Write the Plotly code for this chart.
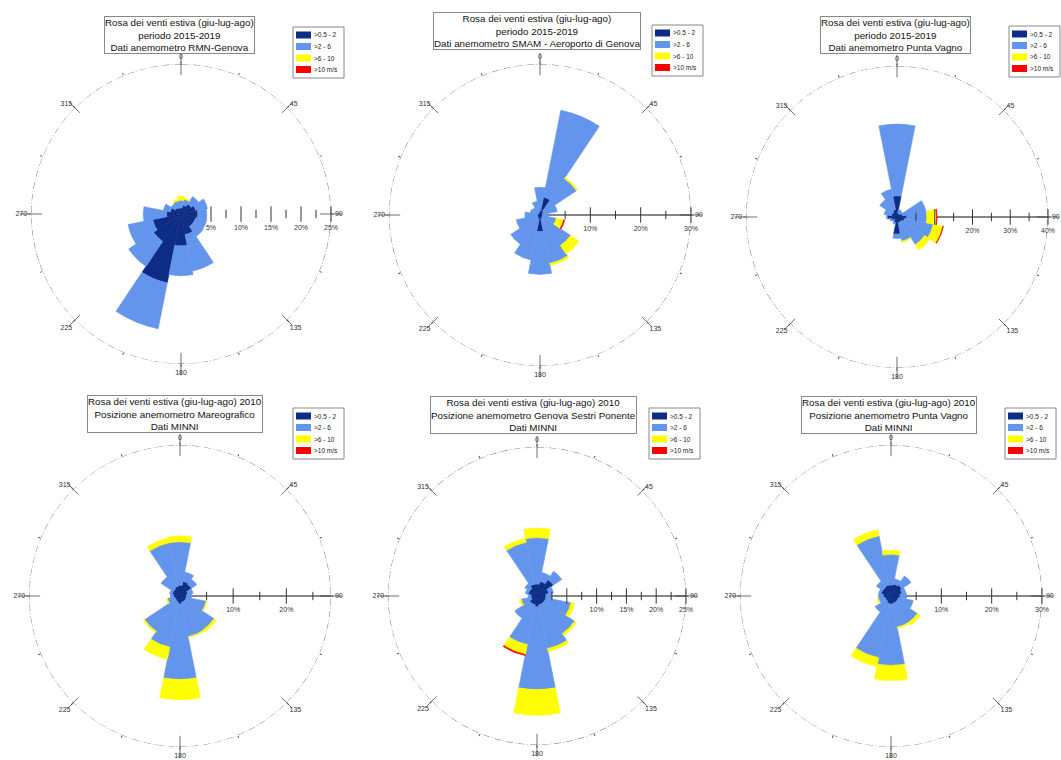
import plotly.graph_objects as go

# ---------------------------------------------------------------------------
# Wind-rose data: frequency (%) per direction sector and speed class
# ---------------------------------------------------------------------------
DIRECTIONS = [0, 22.5, 45, 67.5, 90, 112.5, 135, 157.5,
              180, 202.5, 225, 247.5, 270, 292.5, 315, 337.5]
SPEED_CLASSES = [">0.5 - 2", ">2 - 6", ">6 - 10", ">10 m/s"]
ANGLE_LABELS = ["0", "", "45", "", "90", "", "135", "",
                "180", "", "225", "", "270", "", "315", ""]

# RMN-Genova, 2015-2019
rmn_c1 = [1.0, 1.5, 2.0, 2.5, 2.8, 2.5, 2.5, 3.5, 5.3, 11.7, 5.5, 4.8, 2.4, 1.8, 1.2, 1.0]
rmn_c2 = [1.3, 1.0, 1.5, 2.0, 1.5, 1.9, 2.0, 6.2, 5.0, 7.8, 5.0, 4.2, 3.9, 1.2, 0.8, 1.2]
rmn_c3 = [0.7, 0.2, 0, 0, 0, 0, 0, 0, 0, 0, 0, 0, 0, 0, 0, 0.3]
rmn_c4 = [0, 0, 0, 0, 0, 0, 0, 0, 0, 0, 0, 0, 0, 0, 0, 0]

# SMAM - Aeroporto di Genova, 2015-2019
smam_c1 = [0.8, 3.6, 0.8, 0.5, 0.5, 0.5, 0.5, 0.8, 3.3, 0.8, 0.6, 0.5, 0.5, 0.4, 0.4, 0.5]
smam_c2 = [4.7, 17.6, 7.9, 3.0, 1.2, 2.8, 6.8, 9.0, 8.5, 8.3, 6.4, 4.3, 2.5, 1.6, 1.4, 2.3]
smam_c3 = [0, 0, 0.3, 0, 0, 1.5, 2.0, 0.4, 0, 0, 0, 0, 0, 0, 0, 0]
smam_c4 = [0, 0, 0, 0, 0, 0.2, 0, 0, 0, 0, 0, 0, 0, 0, 0, 0]

# Punta Vagno, 2015-2019
pv_c1 = [5.6, 1.0, 1.0, 1.5, 2.5, 2.0, 1.5, 1.5, 4.5, 1.5, 1.0, 1.5, 2.5, 1.5, 1.5, 2.0]
pv_c2 = [19.0, 1.0, 0.8, 6.3, 5.4, 7.8, 7.3, 5.0, 1.2, 0.5, 0.5, 0.5, 0.3, 2.0, 4.0, 5.5]
pv_c3 = [0, 0, 0, 0, 2.6, 2.6, 1.7, 0.3, 0, 0, 0, 0, 0, 0, 0, 0]
pv_c4 = [0, 0, 0, 0, 0.15, 0.15, 0, 0, 0, 0, 0, 0, 0, 0, 0, 0]

# MINNI 2010 - Mareografico
mar_c1 = [2.0, 2.8, 2.6, 1.5, 1.2, 1.2, 1.2, 1.2, 1.5, 1.2, 1.0, 1.0, 1.2, 1.5, 1.5, 1.8]
mar_c2 = [8.2, 1.8, 1.2, 1.0, 1.0, 3.8, 6.5, 6.6, 14.2, 8.6, 7.0, 1.4, 0.6, 0.5, 2.8, 8.4]
mar_c3 = [1.1, 0, 0, 0, 0, 0.2, 0.5, 0.2, 3.8, 2.3, 0.3, 0.3, 0, 0, 0, 0.9]
mar_c4 = [0, 0, 0, 0, 0, 0, 0, 0, 0, 0, 0, 0, 0, 0, 0, 0]

# MINNI 2010 - Genova Sestri Ponente
ses_c1 = [2.0, 2.5, 3.3, 2.0, 1.5, 1.5, 1.5, 1.5, 1.8, 1.5, 1.5, 1.0, 1.0, 1.5, 1.5, 2.0]
ses_c2 = [7.8, 1.5, 1.7, 0.8, 1.0, 4.3, 6.1, 7.5, 13.9, 6.8, 3.0, 1.7, 0.5, 0.5, 1.0, 7.2]
ses_c3 = [1.6, 0, 0, 0, 0, 0.6, 0.4, 0.5, 4.3, 1.7, 0, 0.3, 0, 0, 0, 0.7]
ses_c4 = [0, 0, 0, 0, 0, 0, 0, 0, 0, 0.2, 0, 0, 0, 0, 0, 0]

# MINNI 2010 - Punta Vagno
mpv_c1 = [2.2, 2.4, 2.6, 2.2, 1.8, 1.5, 1.5, 1.5, 1.6, 1.5, 1.2, 1.2, 1.5, 2.0, 2.0, 2.2]
mpv_c2 = [6.1, 1.1, 2.2, 0.8, 1.3, 3.0, 4.8, 4.8, 12.2, 11.0, 2.6, 1.3, 1.0, 0.5, 1.5, 10.0]
mpv_c3 = [0.8, 0, 0, 0, 0, 0, 0.7, 0.3, 3.0, 1.8, 0, 0.3, 0, 0, 0, 1.2]
mpv_c4 = [0, 0, 0, 0, 0, 0, 0, 0, 0, 0, 0, 0, 0, 0, 0, 0]

# Radial tick values (labelled) and minor tick values, per rose
rmn_ticks, rmn_minor = [5, 10, 15, 20, 25], [2.5, 7.5, 12.5, 17.5, 22.5]
smam_ticks, smam_minor = [10, 20, 30], [5, 15, 25]
pv_ticks, pv_minor = [10, 20, 30, 40], [5, 15, 25, 35]
mar_ticks, mar_minor = [10, 20], [5, 15, 25]
ses_ticks, ses_minor = [5, 10, 15, 20, 25], [2.5, 7.5, 12.5, 17.5, 22.5]
mpv_ticks, mpv_minor = [10, 20, 30], [5, 15, 25]

# ---------------------------------------------------------------------------
# Layout of the six roses (pixel geometry on a 1061 x 760 page)
# ---------------------------------------------------------------------------
W, H = 1061, 760
COLORS = ["#0d2d84", "#6495ed", "#ffff00", "#ff0000"]
FONT = "Liberation Sans, Arial, sans-serif"
TICK_COLOR = "#333333"

panels = [
    dict(title="Rosa dei venti estiva (giu-lug-ago)<br>periodo 2015-2019<br>Dati anemometro RMN-Genova",
         data=[rmn_c1, rmn_c2, rmn_c3, rmn_c4], ticks=rmn_ticks, minor=rmn_minor, rmax=25,
         cx=181, cy=214, R=150, axis_line=False, tbox=(179, 35), leg=(293, 27)),
    dict(title="Rosa dei venti estiva (giu-lug-ago)<br>periodo 2015-2019<br>Dati anemometro SMAM - Aeroporto di Genova",
         data=[smam_c1, smam_c2, smam_c3, smam_c4], ticks=smam_ticks, minor=smam_minor, rmax=30,
         cx=540, cy=215, R=151, axis_line=True, tbox=(537, 31), leg=(652, 25)),
    dict(title="Rosa dei venti estiva (giu-lug-ago)<br>periodo 2015-2019<br>Dati anemometro Punta Vagno",
         data=[pv_c1, pv_c2, pv_c3, pv_c4], ticks=pv_ticks, minor=pv_minor, rmax=40,
         cx=897, cy=217, R=151, axis_line=True, tbox=(895, 35), leg=(1009, 26)),
    dict(title="Rosa dei venti estiva (giu-lug-ago) 2010<br>Posizione anemometro Mareografico<br>Dati MINNI",
         data=[mar_c1, mar_c2, mar_c3, mar_c4], ticks=mar_ticks, minor=mar_minor, rmax=28.4,
         cx=180, cy=596, R=151, axis_line=True, tbox=(175, 414), leg=(293, 408)),
    dict(title="Rosa dei venti estiva (giu-lug-ago) 2010<br>Posizione anemometro Genova Sestri Ponente<br>Dati MINNI",
         data=[ses_c1, ses_c2, ses_c3, ses_c4], ticks=ses_ticks, minor=ses_minor, rmax=25,
         cx=537, cy=596, R=149, axis_line=True, tbox=(533, 415), leg=(649, 408)),
    dict(title="Rosa dei venti estiva (giu-lug-ago) 2010<br>Posizione anemometro Punta Vagno<br>Dati MINNI",
         data=[mpv_c1, mpv_c2, mpv_c3, mpv_c4], ticks=mpv_ticks, minor=mpv_minor, rmax=30,
         cx=891, cy=596, R=151, axis_line=True, tbox=(889, 415), leg=(1005, 408)),
]


def px_x(x):
    return x / W


def px_y(y):
    return 1 - y / H


fig = go.Figure()
layout_extra = {}
annotations = []
shapes = []

for i, p in enumerate(panels, start=1):
    sub = "polar" if i == 1 else f"polar{i}"
    rmax = p["rmax"]

    # outer dashed circle
    circle_theta = list(range(0, 361, 2))
    fig.add_trace(go.Scatterpolar(
        r=[rmax] * len(circle_theta), theta=circle_theta, mode="lines",
        line=dict(color="#444", width=0.8, dash="7px,2px,1px,2px"),
        subplot=sub, showlegend=False, hoverinfo="skip"))

    # radial axis tick marks (drawn beneath the bars)
    fig.add_trace(go.Scatterpolar(
        r=p["minor"], theta=[90] * len(p["minor"]), mode="markers",
        marker=dict(symbol="line-ns-open", size=6, color=TICK_COLOR, line=dict(width=1)),
        subplot=sub, showlegend=False, hoverinfo="skip"))
    fig.add_trace(go.Scatterpolar(
        r=p["ticks"], theta=[90] * len(p["ticks"]), mode="markers",
        marker=dict(symbol="line-ns-open", size=11, color=TICK_COLOR, line=dict(width=1)),
        subplot=sub, showlegend=False, hoverinfo="skip"))

    # compass ticks crossing the circle
    fig.add_trace(go.Scatterpolar(
        r=[rmax] * 8, theta=[0, 45, 90, 135, 180, 225, 270, 315], mode="markers",
        marker=dict(symbol="line-ns-open", size=[16, 10, 16, 10, 16, 10, 16, 10],
                    angle=[0, 45, 90, 135, 180, 225, 270, 315],
                    color=TICK_COLOR, line=dict(width=1)),
        subplot=sub, showlegend=False, hoverinfo="skip"))

    # stacked speed classes
    for name, vals, col in zip(SPEED_CLASSES, p["data"], COLORS):
        fig.add_trace(go.Barpolar(
            r=vals, theta=DIRECTIONS, width=[22.5] * len(DIRECTIONS), name=name,
            marker=dict(color=col, line=dict(width=0.6, color=col)),
            subplot=sub, showlegend=False))

    x0, x1 = px_x(p["cx"] - p["R"]), px_x(p["cx"] + p["R"])
    y0, y1 = px_y(p["cy"] + p["R"]), px_y(p["cy"] - p["R"])
    layout_extra[sub] = dict(
        domain=dict(x=[x0, x1], y=[y0, y1]),
        bgcolor="rgba(0,0,0,0)",
        barmode="stack",
        angularaxis=dict(
            direction="clockwise", rotation=90,
            tickmode="array", tickvals=DIRECTIONS, ticktext=ANGLE_LABELS,
            ticks="outside", ticklen=2, tickcolor="#555",
            showline=False, showgrid=False,
            tickfont=dict(family=FONT, size=7, color="#333"),
            layer="below traces"),
        radialaxis=dict(
            range=[0, rmax], angle=0, tickangle=0,
            tickmode="array", tickvals=p["ticks"],
            ticktext=[f"{v}%" for v in p["ticks"]],
            ticks="outside", ticklen=7, tickcolor="rgba(0,0,0,0)",
            showline=p["axis_line"], linecolor="#111", linewidth=1,
            showgrid=False, tickfont=dict(family=FONT, size=7, color="#333"),
            layer="below traces"),
    )

    # title box
    annotations.append(dict(
        text=p["title"], x=px_x(p["tbox"][0]), y=px_y(p["tbox"][1]),
        xref="paper", yref="paper", xanchor="center", yanchor="middle",
        showarrow=False, align="center",
        font=dict(family=FONT, size=9.8, color="#111"),
        bgcolor="white", bordercolor="#888", borderwidth=1, borderpad=0))

    # legend box with colour keys for the speed classes
    lx, ly = p["leg"]
    shapes.append(dict(type="rect", xref="paper", yref="paper",
                       x0=px_x(lx), x1=px_x(lx + 51), y0=px_y(ly), y1=px_y(ly + 51),
                       line=dict(color="#888", width=1), fillcolor="white", layer="above"))
    for k, (name, col) in enumerate(zip(SPEED_CLASSES, COLORS)):
        yc = ly + 8 + k * 11.5
        shapes.append(dict(type="rect", xref="paper", yref="paper",
                           x0=px_x(lx + 3), x1=px_x(lx + 18),
                           y0=px_y(yc + 3.5), y1=px_y(yc - 3.5),
                           line=dict(width=0), fillcolor=col, layer="above"))
        annotations.append(dict(
            text=name, x=px_x(lx + 19), y=px_y(yc), xref="paper", yref="paper",
            xanchor="left", yanchor="middle", showarrow=False,
            font=dict(family=FONT, size=6.5, color="#222")))

fig.update_layout(
    width=W, height=H,
    margin=dict(l=0, r=0, t=0, b=0),
    paper_bgcolor="white", plot_bgcolor="white",
    font=dict(family=FONT),
    showlegend=False,
    annotations=annotations,
    shapes=shapes,
    **layout_extra,
)

fig.write_html("out.html")
